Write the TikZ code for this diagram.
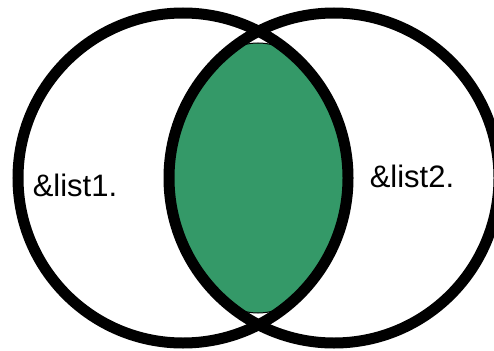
\documentclass[tikz,border=0pt]{standalone}
\usepackage{fontspec}
\setmainfont{Liberation Sans}
\usepackage{tikz}
\usetikzlibrary{positioning}

\definecolor{lensgreen}{RGB}{52,153,104}

\begin{document}
\begin{tikzpicture}[x=1pt,y=-1pt]
            \useasboundingbox (0,0) rectangle (494,350);

            \coordinate (L) at (183,178);
            \coordinate (R) at (334,178);
            \coordinate (M) at (258,178);

            \begin{scope}
                \clip (L) circle (165);
                \clip (R) circle (165);
                \fill[lensgreen, draw=black, line width=1pt] (M) ellipse (88 and 135);
            \end{scope}

            \draw[line width=11pt] (L) circle (165);
            \draw[line width=11pt] (R) circle (165);

            \node[font=\fontsize{31}{36}\selectfont] (list1) at (75,185) {\&list1.};
            \node[font=\fontsize{31}{36}\selectfont] (list2) at (412,176) {\&list2.};
        \end{tikzpicture}
\end{document}
